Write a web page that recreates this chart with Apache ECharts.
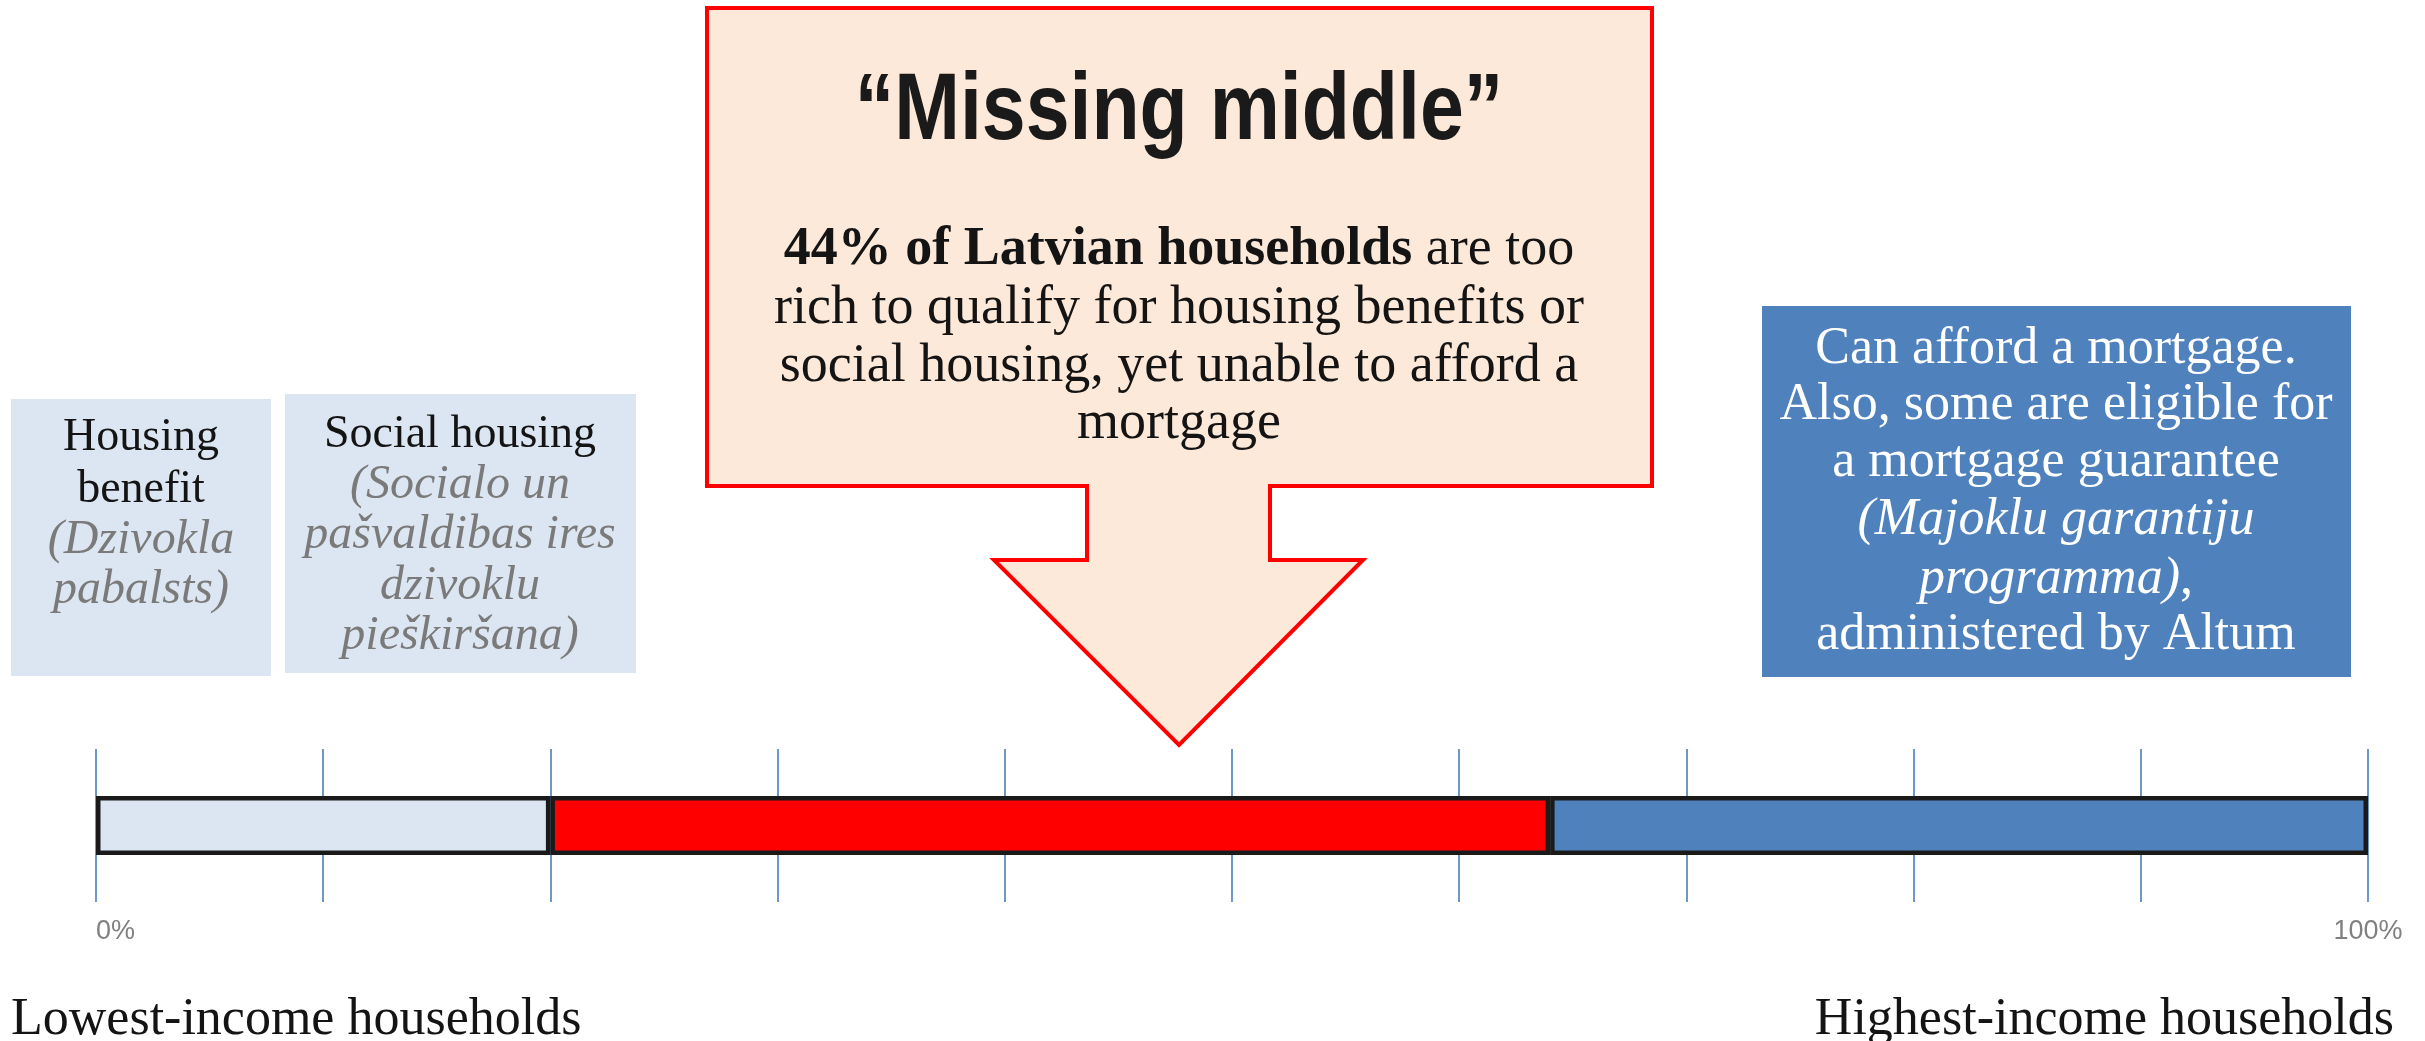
<!DOCTYPE html>
<html>
<head>
<meta charset="utf-8">
<title>Missing middle – Latvian household income distribution</title>
<script src="https://cdn.jsdelivr.net/npm/echarts@6/dist/echarts.min.js"></script>
<style>
  html, body { margin: 0; padding: 0; background: #ffffff; }
  #chart { width: 2425px; height: 1041px; }
</style>
</head>
<body>
<div id="chart"></div>
<script>
// Income distribution segments, share of households (%), lowest to highest income
const segmentNames = ['Housing benefit / social housing', 'Missing middle', 'Can afford a mortgage'];
const segmentValues = [20, 44, 36];
const segmentColors = ['#dce6f2', '#ff0000', '#4f81bd'];

// Axis: 0–100 % with a guide line every 10 %, only the ends labelled
const axisMin = 0;
const axisMax = 100;
const axisStep = 10;
const edgeLabels = ['0%', '100%'];

// Annotation texts
const calloutTitle = '\u201CMissing middle\u201D';
const calloutBold = '44% of Latvian households';
const calloutLines = [
  ' are too',
  'rich to qualify for housing benefits or',
  'social housing, yet unable to afford a',
  'mortgage'
];
const benefitLines = ['Housing', 'benefit'];
const benefitItalic = ['(Dzivokla', 'pabalsts)'];
const socialLines = ['Social housing'];
const socialItalic = ['(Socialo un', 'pa\u0161valdibas ires', 'dzivoklu', 'pie\u0161kir\u0161ana)'];
const mortgageLines = ['Can afford a mortgage.', 'Also, some are eligible for', 'a mortgage guarantee'];
const mortgageItalic = ['(Majoklu garantiju', 'programma)'];
const mortgageLast = 'administered by Altum';
const lowLabel = 'Lowest-income households';
const highLabel = 'Highest-income households';

const serif = "'Liberation Serif', 'DejaVu Serif', serif";
const sans = "'Liberation Sans', Arial, sans-serif";
const ink = '#141414';
const grey = '#7a7a7a';

// vertical position of a middle-aligned line so that its baseline sits at `baseline`
function midFor(baseline, size) {
  return baseline - 0.3375 * size + 5;
}

function line(x, baseline, text, size, opt) {
  opt = opt || {};
  return {
    type: 'text',
    x: x,
    y: midFor(baseline, size),
    z: 10,
    scaleX: opt.scaleX || 1,
    style: {
      text: text,
      fontSize: size,
      fontFamily: opt.family || serif,
      fontWeight: opt.weight || 'normal',
      fontStyle: opt.style || 'normal',
      fill: opt.fill || ink,
      textAlign: opt.align || 'center',
      textVerticalAlign: 'middle'
    }
  };
}

function richStyle(size, weight, style, fill) {
  return { fontSize: size, fontFamily: serif, fontWeight: weight, fontStyle: style, fill: fill };
}

const graphics = [];

// Call-out box with the downward arrow
graphics.push({
  type: 'polygon',
  z: 5,
  shape: {
    points: [
      [707, 8], [1652, 8], [1652, 486], [1270, 486], [1270, 560], [1363, 560],
      [1179, 745], [994, 560], [1087, 560], [1087, 486], [707, 486]
    ]
  },
  style: { fill: '#fde9d9', stroke: '#ff0000', lineWidth: 4, lineJoin: 'miter' }
});
// condensed bold heading
graphics.push(line(1179, 140, calloutTitle, 95, { family: sans, weight: 'bold', fill: '#1a1a1a', scaleX: 0.83 }));
graphics.push({
  type: 'text', x: 1179, y: midFor(263, 54), z: 10,
  style: {
    text: '{b|' + calloutBold + '}{r|' + calloutLines[0] + '}',
    textAlign: 'center', textVerticalAlign: 'middle',
    rich: { b: richStyle(54, 'bold', 'normal', ink), r: richStyle(54, 'normal', 'normal', ink) }
  }
});
[322, 380, 437].forEach(function (b, i) {
  graphics.push(line(1179, b, calloutLines[i + 1], 54));
});

// Housing benefit box
graphics.push({ type: 'rect', z: 5, shape: { x: 11, y: 399, width: 260, height: 277 }, style: { fill: '#dce6f2' } });
graphics.push(line(141, 448, benefitLines[0], 46));
graphics.push(line(141, 500, benefitLines[1], 46));
graphics.push(line(141, 552, benefitItalic[0], 48, { style: 'italic', fill: grey }));
graphics.push(line(141, 602, benefitItalic[1], 48, { style: 'italic', fill: grey }));

// Social housing box
graphics.push({ type: 'rect', z: 5, shape: { x: 285, y: 394, width: 351, height: 279 }, style: { fill: '#dce6f2' } });
graphics.push(line(460, 445, socialLines[0], 46));
[497, 547, 598, 648].forEach(function (b, i) {
  graphics.push(line(460, b, socialItalic[i], 48, { style: 'italic', fill: grey }));
});

// Mortgage box
graphics.push({ type: 'rect', z: 5, shape: { x: 1762, y: 306, width: 589, height: 371 }, style: { fill: '#4f81bd' } });
[362, 418, 475].forEach(function (b, i) {
  graphics.push(line(2056, b, mortgageLines[i], 52, { fill: '#ffffff' }));
});
graphics.push(line(2056, 533, mortgageItalic[0], 52, { style: 'italic', fill: '#ffffff' }));
graphics.push({
  type: 'text', x: 2056, y: midFor(592, 52), z: 10,
  style: {
    text: '{i|' + mortgageItalic[1] + '}{r|,}',
    textAlign: 'center', textVerticalAlign: 'middle',
    rich: { i: richStyle(52, 'normal', 'italic', '#ffffff'), r: richStyle(52, 'normal', 'normal', '#ffffff') }
  }
});
graphics.push(line(2056, 648, mortgageLast, 52, { fill: '#ffffff' }));

// Ends of the income scale
graphics.push(line(11, 1033, lowLabel, 52, { align: 'left' }));
graphics.push(line(2394, 1033, highLabel, 52, { align: 'right' }));

const chart = echarts.init(document.getElementById('chart'), null, { renderer: 'canvas' });

chart.setOption({
  backgroundColor: '#ffffff',
  animation: false,
  grid: { left: 96, right: 57, top: 749, bottom: 139, containLabel: false },
  xAxis: {
    type: 'value',
    min: axisMin,
    max: axisMax,
    interval: axisStep,
    axisLine: { show: false },
    axisTick: { show: false },
    splitLine: { show: true, lineStyle: { color: '#4a7ebb', width: 1.6 } },
    axisLabel: {
      show: true,
      margin: 16,
      fontSize: 27,
      fontFamily: sans,
      color: '#808080',
      alignMinLabel: 'left',
      formatter: function (v) {
        if (v === axisMin) return edgeLabels[0];
        if (v === axisMax) return edgeLabels[1];
        return '';
      }
    }
  },
  yAxis: {
    type: 'category',
    data: ['Households'],
    show: false
  },
  series: segmentNames.map(function (name, i) {
    return {
      name: name,
      type: 'bar',
      stack: 'income',
      barWidth: 59,
      data: [segmentValues[i]],
      itemStyle: { color: segmentColors[i], borderColor: '#1a1a1a', borderWidth: 4.5 },
      emphasis: { disabled: true }
    };
  }),
  graphic: graphics
});
</script>
</body>
</html>
